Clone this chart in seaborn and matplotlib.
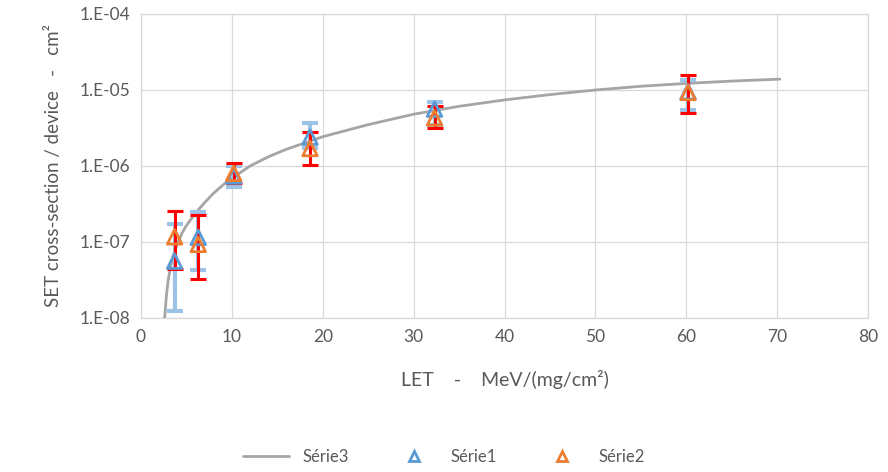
import matplotlib
matplotlib.use("Agg")
import matplotlib.pyplot as plt
import seaborn as sns
import numpy as np
import pandas as pd
from matplotlib.lines import Line2D

# ---- data ----
let_points = [3.7, 6.3, 10.2, 18.6, 32.3, 60.2]
serie1 = [5.6e-8, 1.15e-7, 7.4e-7, 2.4e-6, 5.6e-6, 9.5e-6]
serie1_low = [1.25e-8, 4.3e-8, 5.3e-7, 1.7e-6, 3.5e-6, 5.5e-6]
serie1_high = [1.75e-7, 2.5e-7, 1.0e-6, 3.7e-6, 7.0e-6, 1.35e-5]
serie2 = [1.17e-7, 9.3e-8, 8.0e-7, 1.7e-6, 4.3e-6, 9.3e-6]
serie2_low = [4.4e-8, 3.3e-8, 6.0e-7, 1.02e-6, 3.2e-6, 5.0e-6]
serie2_high = [2.55e-7, 2.3e-7, 1.1e-6, 2.8e-6, 6.1e-6, 1.58e-5]

curve_let = [2.6, 2.8, 3.0, 3.3, 3.6, 4.0, 4.5, 5.0, 6.0, 7.0, 8.0, 9.5, 12, 14, 16, 20, 25, 30, 35, 40, 45, 50, 55, 60, 65, 70.3]
serie3 = [1.0e-8, 2.0e-8, 3.2e-8, 5.0e-8, 7.0e-8, 9.5e-8, 1.3e-7, 1.65e-7, 2.4e-7, 3.3e-7, 4.4e-7, 6.3e-7,
          1.0e-6, 1.32e-6, 1.66e-6, 2.43e-6, 3.5e-6, 4.8e-6, 6.1e-6, 7.4e-6, 8.7e-6, 1.0e-5, 1.12e-5, 1.22e-5, 1.31e-5, 1.39e-5]

x_ticks = [0, 10, 20, 30, 40, 50, 60, 70, 80]
y_ticks = [1e-8, 1e-7, 1e-6, 1e-5, 1e-4]
y_labels = ["1.E-08", "1.E-07", "1.E-06", "1.E-05", "1.E-04"]

# ---- style ----
sns.set_style("white")
plt.rcParams['font.family'] = ['Lato', 'DejaVu Sans']
txt = "#595959"
blue = "#5B9BD5"
lblue = "#9DC3E6"
orange = "#ED7D31"
red = "#FF0000"
gridc = "#D9D9D9"

fig = plt.figure(figsize=(8.88, 4.72), dpi=100)
ax = fig.add_axes([141/888, 1 - 318/472, (868-141)/888, (318-14)/472])

df3 = pd.DataFrame({"LET": curve_let, "sigma": serie3})
sns.lineplot(data=df3, x="LET", y="sigma", ax=ax, color="#A5A5A5", lw=2, zorder=3, sort=True)

s1 = np.array(serie1); s2 = np.array(serie2)
ax.errorbar(let_points, s1, yerr=[s1 - np.array(serie1_low), np.array(serie1_high) - s1],
            fmt="none", ecolor=lblue, elinewidth=3, capsize=6, capthick=3, zorder=4)
ax.errorbar(let_points, s2, yerr=[s2 - np.array(serie2_low), np.array(serie2_high) - s2],
            fmt="none", ecolor=red, elinewidth=2.2, capsize=6, capthick=2.2, zorder=5)

df1 = pd.DataFrame({"LET": let_points, "sigma": serie1})
df2 = pd.DataFrame({"LET": let_points, "sigma": serie2})
sns.scatterplot(data=df1, x="LET", y="sigma", ax=ax, marker="^", s=110,
                facecolor="none", edgecolor=blue, linewidth=2, zorder=6)
sns.scatterplot(data=df2, x="LET", y="sigma", ax=ax, marker="^", s=110,
                facecolor="none", edgecolor=orange, linewidth=2, zorder=7)

ax.set_yscale("log")
ax.set_xlim(0, 80)
ax.set_ylim(1e-8, 1e-4)
ax.set_xticks(x_ticks)
ax.set_xticklabels([str(t) for t in x_ticks])
ax.set_yticks(y_ticks)
ax.set_yticklabels(y_labels)
ax.minorticks_off()
ax.tick_params(axis="both", colors=txt, labelsize=12.5, length=0, pad=8)
ax.grid(True, color=gridc, lw=0.9, zorder=0)
ax.set_axisbelow(True)
for sp in ["top", "right", "left", "bottom"]:
    ax.spines[sp].set_color(gridc)
    ax.spines[sp].set_linewidth(0.9)

ax.set_xlabel("LET    -    MeV/(mg/cm²)", color=txt, fontsize=14, labelpad=18)
ax.set_ylabel("SET cross-section / device   -   cm²", color=txt, fontsize=13.5, labelpad=12)

handles = [Line2D([0], [0], color="#A5A5A5", lw=2),
           Line2D([0], [0], marker="^", color="none", markeredgecolor=blue, markerfacecolor="none", markersize=7, markeredgewidth=2),
           Line2D([0], [0], marker="^", color="none", markeredgecolor=orange, markerfacecolor="none", markersize=7, markeredgewidth=2)]
fig.legend(handles, ["Série3", "Série1", "Série2"], loc="center", bbox_to_anchor=(0.5, 1 - 457/472),
           ncol=3, frameon=False, fontsize=12, labelcolor=txt, columnspacing=2.5, handlelength=2.8)

fig.savefig("out.png", dpi=100)
